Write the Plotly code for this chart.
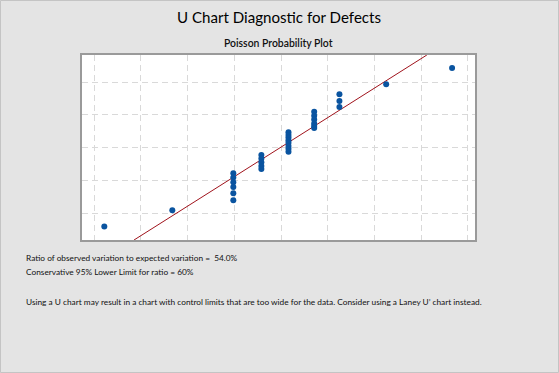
import plotly.graph_objects as go

# Observed points (probability plot coordinates, arbitrary units)
pts_x = [0.22, 1.675,
         2.98, 2.98, 2.98, 2.98, 2.98, 2.98,
         3.58, 3.58, 3.58, 3.58, 3.58,
         4.16, 4.16, 4.16, 4.16, 4.16, 4.16, 4.16, 4.16,
         4.71, 4.71, 4.71, 4.71, 4.71, 4.71,
         5.25, 5.25, 5.25,
         6.25, 7.66]
pts_y = [-0.40, 0.09,
         1.22, 1.09, 0.95, 0.80, 0.61, 0.40,
         1.78, 1.67, 1.56, 1.44, 1.35,
         2.47, 2.39, 2.31, 2.23, 2.15, 2.05, 1.97, 1.88,
         3.10, 2.98, 2.86, 2.74, 2.66, 2.60,
         3.63, 3.43, 3.24,
         3.94, 4.43]
fit_x = [0.856, 7.12]
fit_y = [-0.815, 4.83]

x_grid = [0, 1, 2, 3, 4, 5, 6, 7, 8]
y_grid = [0, 1, 2, 3, 4]

title = "U Chart Diagnostic for Defects"
subtitle = "Poisson Probability Plot"
notes = [
    "Ratio of observed variation to expected variation =  54.0%",
    "Conservative 95% Lower Limit for ratio = 60%",
    "Using a U chart may result in a chart with control limits that are too wide for the data. Consider using a Laney U\u2019 chart instead.",
]

W, H = 559, 373
ml, mr, mt, mb = 82, 84, 55, 133
pw, ph = W - ml - mr, H - mt - mb

def px_x(p):
    return (p - ml) / pw

def px_y(p):
    return (H - mb - p) / ph

fig = go.Figure()
fig.add_trace(go.Scatter(x=fit_x, y=fit_y, mode="lines",
                         line=dict(color="#a0131c", width=1), hoverinfo="skip"))
fig.add_trace(go.Scatter(x=pts_x, y=pts_y, mode="markers",
                         marker=dict(color="#0a54a0", size=6), hoverinfo="skip"))

axis_common = dict(showticklabels=False, ticks="", zeroline=False,
                   showline=True, mirror=True, linecolor="#9a9a9a", linewidth=1.5,
                   showgrid=True, gridcolor="#d9d9d9", griddash="6px,4px", gridwidth=1)

fig.update_layout(
    width=W, height=H,
    margin=dict(l=ml, r=mr, t=mt, b=mb),
    paper_bgcolor="#e4e4e4", plot_bgcolor="white",
    showlegend=False,
    font=dict(family="Lato", color="black"),
    xaxis=dict(range=[-0.257, 8.15], tickvals=x_grid, **axis_common),
    yaxis=dict(range=[-0.815, 4.83], tickvals=y_grid, **axis_common),
)

ann = []
ann.append(dict(text=title, x=px_x(279), y=px_y(17), xref="paper", yref="paper",
                xanchor="center", yanchor="middle", showarrow=False,
                font=dict(size=15.1, family="Lato", color="black")))
ann.append(dict(text=subtitle, x=px_x(278), y=px_y(43), xref="paper", yref="paper",
                xanchor="center", yanchor="middle", showarrow=False,
                font=dict(size=10.4, family="Lato", color="#111", weight=600)))
for txt, yy in zip(notes, [258, 272, 302]):
    ann.append(dict(text=txt, x=px_x(24), y=px_y(yy), xref="paper", yref="paper",
                    xanchor="left", yanchor="middle", showarrow=False,
                    font=dict(size=8.3, family="Lato", color="#111")))
fig.update_layout(annotations=ann)

fig.add_shape(type="rect", xref="paper", yref="paper",
              x0=px_x(0.5), x1=px_x(W - 0.5), y0=px_y(H - 0.5), y1=px_y(0.5),
              line=dict(color="#c4c4c4", width=1), layer="below")

fig.write_html("out.html", config={"displayModeBar": False},
               post_script="document.body.style.margin='0';")
